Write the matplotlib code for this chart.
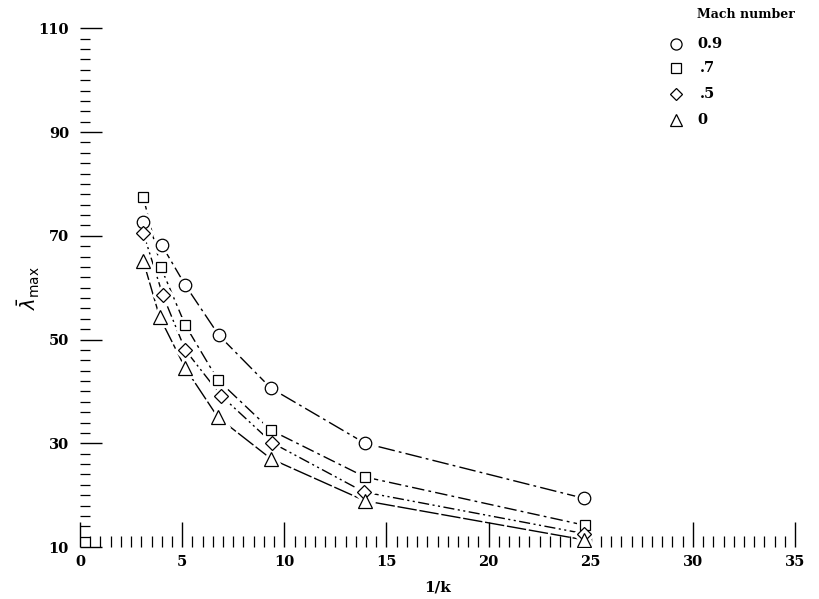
import matplotlib
matplotlib.use("Agg")
import matplotlib.pyplot as plt
from matplotlib.ticker import MultipleLocator, FixedLocator

# ---- data ----
mach_labels = ["0.9", ".7", ".5", "0"]
markers = ["o", "s", "D", "^"]

x_m09 = [3.1, 4.0, 5.15, 6.8, 9.35, 13.95, 24.65]
y_m09 = [72.6, 68.2, 60.5, 50.8, 40.6, 30.0, 19.4]

x_m07 = [3.1, 3.95, 5.15, 6.75, 9.35, 13.95, 24.7]
y_m07 = [77.4, 64.0, 52.8, 42.2, 32.5, 23.5, 14.2]

x_m05 = [3.1, 4.05, 5.15, 6.9, 9.4, 13.9, 24.65]
y_m05 = [70.5, 58.6, 48.0, 39.2, 30.1, 20.6, 12.6]

x_m00 = [3.1, 3.9, 5.15, 6.75, 9.35, 13.95, 24.65]
y_m00 = [65.1, 54.3, 44.5, 35.0, 27.0, 18.9, 11.4]

series_x = [x_m09, x_m07, x_m05, x_m00]
series_y = [y_m09, y_m07, y_m05, y_m00]

x_major = [0, 5, 10, 15, 20, 25, 30, 35]
y_major = [10, 30, 50, 70, 90, 110]

# ---- styles ----
dashes = [(0, (12, 3, 2, 3)), (0, (9, 3, 2, 3)), (0, (8, 2.5, 1.5, 2.5, 1.5, 2.5)), (0, (14, 2))]
msizes = [9, 7.5, 7, 10]

plt.rcParams['font.family'] = ['DejaVu Serif']
fig = plt.figure(figsize=(8.19, 5.99), dpi=100)
ax = fig.add_axes([0.0977, 0.0868, 0.873, 0.866])

for xs, ys, m, ls, ms in zip(series_x, series_y, markers, dashes, msizes):
    ax.plot(xs, ys, color='black', lw=1.0, linestyle=ls, zorder=2)
    ax.plot(xs, ys, linestyle='none', marker=m, ms=ms, mfc='white', mec='white', mew=5, zorder=3)
    ax.plot(xs, ys, linestyle='none', marker=m, ms=ms, mfc='white', mec='black', mew=0.9, zorder=4)

ax.set_xlim(0, 35)
ax.set_ylim(10, 110)
for s in ax.spines.values():
    s.set_visible(False)

ax.xaxis.set_major_locator(FixedLocator(x_major))
ax.xaxis.set_minor_locator(MultipleLocator(0.5))
ax.yaxis.set_major_locator(FixedLocator(y_major))
ax.yaxis.set_minor_locator(MultipleLocator(2))

ax.tick_params(axis='x', which='major', direction='in', length=18, width=1.0, pad=6,
               labelsize=10.5)
ax.tick_params(axis='x', which='minor', direction='in', length=8, width=0.9)
ax.tick_params(axis='y', which='major', direction='in', length=16, width=1.0, pad=8,
               labelsize=10.5)
ax.tick_params(axis='y', which='minor', direction='in', length=7, width=0.9)
for lab in ax.get_xticklabels() + ax.get_yticklabels():
    lab.set_fontweight('bold')

ax.set_xlabel('1/k', fontsize=11, fontweight='bold', labelpad=8)
ax.set_ylabel(r'$\bar{\lambda}_{\mathrm{max}}$', fontsize=14)
ax.yaxis.set_label_coords(-0.053, 0.5)

# ---- manual legend ----
fig.text(0.851, 0.975, 'Mach number', fontsize=9, fontweight='bold', ha='left', va='center')
leg_y = [0.927, 0.886, 0.843, 0.800]
for lab, m, ms, yy in zip(mach_labels, markers, msizes, leg_y):
    ax.plot([0.826], [yy], transform=fig.transFigure, marker=m, ms=ms - 1, mfc='white',
            mec='black', mew=0.9, linestyle='none', clip_on=False)
    xoff = 0.851 if lab in ("0.9", "0") else 0.855
    fig.text(xoff, yy, lab, fontsize=10.5, fontweight='bold', ha='left', va='center')

fig.savefig('out.png', dpi=100)
